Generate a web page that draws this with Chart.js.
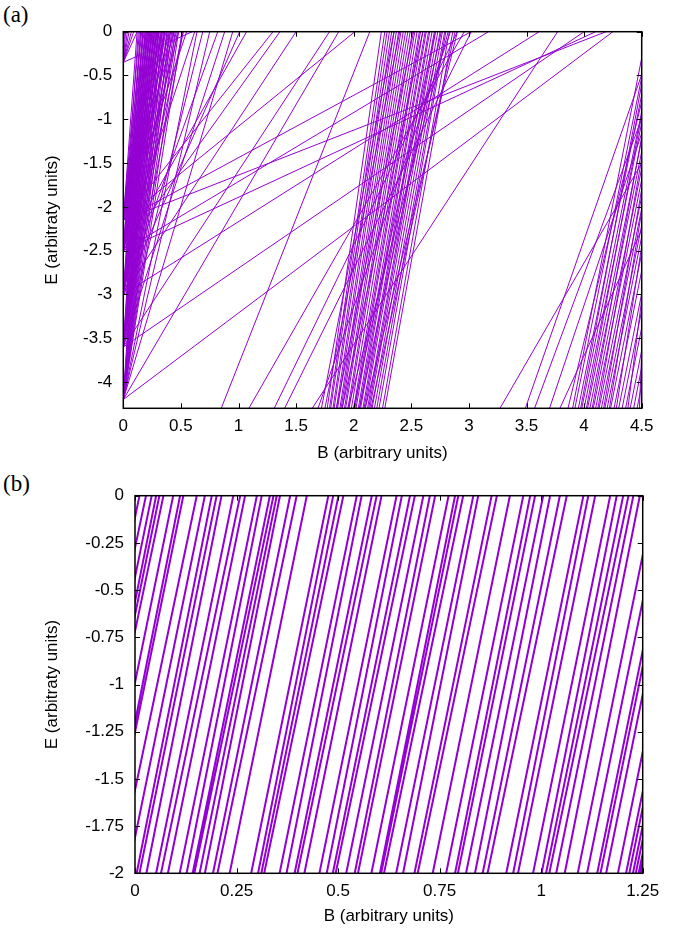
<!DOCTYPE html>
<html><head><meta charset="utf-8">
<script src="https://cdn.jsdelivr.net/npm/chart.js@4"></script>
<style>
body{margin:0;background:#fff;width:680px;height:930px;position:relative;overflow:hidden}
canvas{position:absolute;left:0}
.lab{position:absolute;left:3px;font-family:"Liberation Serif","DejaVu Serif",serif;font-size:23px;color:#000}
</style></head><body>
<div class="lab" style="top:2px">(a)</div>
<div class="lab" style="top:471px">(b)</div>
<canvas id="ca" width="680" height="465" style="top:0"></canvas>
<canvas id="cb" width="680" height="465" style="top:465px"></canvas>
<script>
// ---------- Panel (a) data ----------
const aXTicks = [0, 0.5, 1, 1.5, 2, 2.5, 3, 3.5, 4, 4.5];
const aYTicks = [0, -0.5, -1, -1.5, -2, -2.5, -3, -3.5, -4];
const aOriginE = [-0.35, -2.15, -2.5, -3.0, -3.6, -4.2];
// B where each line leaving an origin (B = 0) reaches E = 0
const aOriginTopB = [
  [0.01, 0.02, 0.035, 0.05, 0.07, 0.09, 0.12, 0.6],
  [0.12, 0.14, 0.16, 0.18, 0.2, 0.22, 0.24, 0.26, 0.28, 0.3, 0.33, 0.36, 0.4, 0.44, 0.55, 1.3, 2.01, 3.02, 4.19],
  [0.13, 0.15, 0.17, 0.19, 0.21, 0.23, 0.25, 0.27, 0.29, 0.31, 0.34, 0.37, 0.41, 0.48, 0.62, 1.07, 1.36, 3.17, 4.1],
  [0.15, 0.17, 0.19, 0.21, 0.23, 0.25, 0.27, 0.29, 0.31, 0.33, 0.36, 0.39, 0.43, 0.46, 0.52, 0.82, 1.01, 1.5, 3.61],
  [0.17, 0.19, 0.21, 0.23, 0.25, 0.27, 0.29, 0.31, 0.33, 0.35, 0.38, 0.41, 0.44, 0.47, 0.52, 0.69, 0.88, 1.79, 4.0],
  [0.2, 0.22, 0.24, 0.26, 0.28, 0.3, 0.32, 0.34, 0.36, 0.38, 0.4, 0.42, 0.45, 0.48, 0.51, 0.64, 0.75, 0.95, 1.87, 4.25]
];
// lines crossing the bottom edge (E = -4.3) and the top edge (E = 0)
const aBottomB = [0.85, 1.09, 1.31, 1.40, 1.64, 1.69, 1.72, 1.75,
  1.77, 1.79, 1.80, 1.82, 1.83, 1.85, 1.86, 1.88, 1.89, 1.90, 1.92, 1.93, 1.95, 1.96, 1.98, 2.00,
  2.01, 2.02, 2.04, 2.05, 2.06, 2.08, 2.09, 2.10, 2.12, 2.13, 2.14, 2.16, 2.18, 2.20, 2.22, 2.25, 2.27,
  1.90, 2.05, 1.95, 2.10, 1.85, 2.00, 2.15];
const aTopB = [2.14, 2.96, 2.90, 3.02, 3.77, 2.84, 2.35, 2.40,
  2.24, 2.27, 2.29, 2.31, 2.33, 2.35, 2.37, 2.39, 2.41, 2.43, 2.45, 2.47, 2.49, 2.51, 2.53, 2.55,
  2.57, 2.58, 2.60, 2.62, 2.63, 2.65, 2.66, 2.68, 2.70, 2.71, 2.73, 2.75, 2.77, 2.79, 2.80, 2.83, 2.86,
  2.60, 2.76, 2.82, 2.90, 2.52, 2.71, 2.88];
// lines crossing the bottom edge and ending on the right edge (B = 4.5)
const aRightBottomB = [3.27, 3.49, 3.57, 3.70, 3.79, 3.86, 3.90, 3.92, 3.95, 3.97, 3.98, 4.00, 4.02,
  4.03, 4.05, 4.07, 4.08, 4.10, 4.12, 4.13, 4.15, 4.17, 4.18, 4.20, 4.22, 4.23, 4.26, 4.28, 4.30, 4.33,
  4.36, 4.38, 4.40, 4.43, 4.46, 4.48];
const aRightE = [-1.50, -0.49, -0.99, -1.16, -2.26, -0.80, -0.30, -0.52, -0.72, -0.60, -0.91, -1.04, -0.95,
  -1.23, -1.37, -1.20, -1.56, -1.69, -1.45, -1.88, -2.02, -1.80, -2.21, -2.34, -2.05, -2.53, -2.73, -2.45, -2.99, -3.18,
  -3.38, -3.06, -3.64, -3.83, -4.03, -3.68];

// ---------- Panel (b) data ----------
const bXTicks = [0, 0.25, 0.5, 0.75, 1, 1.25];
const bYTicks = [0, -0.25, -0.5, -0.75, -1, -1.25, -1.5, -1.75, -2];
// B where each line crosses E = 0 (top) and E = -2 (bottom)
const bTopB = [0.011, 0.027, 0.041, 0.052, 0.060, 0.070, 0.094, 0.111, 0.119, 0.152, 0.172, 0.189,
  0.201, 0.213, 0.242, 0.259, 0.271, 0.300, 0.312, 0.332, 0.341, 0.349, 0.357, 0.382, 0.398, 0.423,
  0.476, 0.488, 0.501, 0.513, 0.546, 0.558, 0.583, 0.595, 0.607, 0.644, 0.657, 0.677, 0.689, 0.710,
  0.726, 0.739, 0.772, 0.788, 0.796, 0.808, 0.833, 0.845, 0.878, 0.891, 0.923, 0.956, 0.973, 0.985,
  1.005, 1.022, 1.046, 1.063, 1.104, 1.116, 1.133, 1.170, 1.186, 1.202, 1.215, 1.227, 1.243,
  1.280, 1.303, 1.328, 1.336, 1.350, 1.379, 1.399, 1.407, 1.416, 1.423, 1.430, 1.435];
const bBottomB = [-0.179, -0.168, -0.149, -0.133, -0.130, -0.125, -0.096, -0.074, -0.071, -0.043, -0.018, 0.004,
  0.011, 0.028, 0.052, 0.064, 0.081, 0.110, 0.127, 0.142, 0.146, 0.159, 0.172, 0.192, 0.203, 0.233,
  0.286, 0.303, 0.311, 0.318, 0.356, 0.373, 0.393, 0.400, 0.417, 0.454, 0.472, 0.487, 0.494, 0.520,
  0.541, 0.549, 0.582, 0.603, 0.606, 0.613, 0.643, 0.660, 0.688, 0.696, 0.733, 0.766, 0.788, 0.795,
  0.815, 0.837, 0.856, 0.868, 0.914, 0.931, 0.943, 0.980, 1.001, 1.012, 1.020, 1.037, 1.058,
  1.090, 1.113, 1.138, 1.146, 1.160, 1.189, 1.209, 1.217, 1.226, 1.233, 1.240, 1.245];

// ---------- build ----------
const A_MIN_E = -4.3, A_MAX_B = 4.5, B_MIN_E = -2;
function seg(arr, x1, y1, x2, y2) { arr.push({x:x1,y:y1}, {x:x2,y:y2}, {x:x2,y:null}); }
const ptsA = [];
aOriginE.forEach((e0, i) => aOriginTopB[i].forEach(bt => seg(ptsA, 0, e0, bt, 0)));
aBottomB.forEach((bb, i) => seg(ptsA, bb, A_MIN_E, aTopB[i], 0));
aRightBottomB.forEach((bb, i) => seg(ptsA, bb, A_MIN_E, A_MAX_B, aRightE[i]));
const ptsB = [];
bTopB.forEach((bt, i) => seg(ptsB, bBottomB[i], B_MIN_E, bt, 0));

Chart.defaults.font.family = '"Liberation Sans", Arial, sans-serif';
Chart.defaults.font.size = 17;
Chart.defaults.color = '#000';

const frame = {
  id: 'frame',
  afterDatasetsDraw(chart) {
    const {ctx, chartArea: a, scales: {x, y}} = chart;
    ctx.save();
    ctx.strokeStyle = '#000';
    ctx.lineWidth = 1;
    ctx.beginPath();
    x.ticks.forEach(t => {
      const p = Math.round(x.getPixelForValue(t.value)) + 0.5;
      ctx.moveTo(p, a.bottom); ctx.lineTo(p, a.bottom - 5);
      ctx.moveTo(p, a.top); ctx.lineTo(p, a.top + 5);
    });
    y.ticks.forEach(t => {
      const p = Math.round(y.getPixelForValue(t.value)) + 0.5;
      ctx.moveTo(a.left, p); ctx.lineTo(a.left + 5, p);
      ctx.moveTo(a.right, p); ctx.lineTo(a.right - 5, p);
    });
    ctx.stroke();
    ctx.lineWidth = 1.5;
    ctx.strokeRect(a.left, a.top, a.width, a.height);
    ctx.restore();
  }
};

function makeChart(id, pts, cfg) {
  return new Chart(document.getElementById(id), {
    type: 'scatter',
    data: { datasets: [{ data: pts, showLine: true, spanGaps: false, borderColor: '#9400D3',
      borderWidth: cfg.lw, pointRadius: 0, pointHoverRadius: 0, fill: false }] },
    options: {
      responsive: false, animation: false, events: [],
      layout: { padding: { left: 0, top: cfg.top, right: cfg.right, bottom: 0 } },
      plugins: { legend: { display: false }, tooltip: { enabled: false } },
      scales: {
        x: {
          type: 'linear', min: cfg.xmin, max: cfg.xmax,
          afterBuildTicks: s => { s.ticks = cfg.xt.map(v => ({value: v})); },
          afterFit: s => { s.height = cfg.xh; },
          ticks: { padding: 8, maxRotation: 0, autoSkip: false, callback: v => String(v) },
          grid: { display: false, drawTicks: false, tickLength: 0 },
          border: { display: false },
          title: { display: true, text: 'B (arbitrary units)', padding: { top: 0, bottom: cfg.xtp } }
        },
        y: {
          type: 'linear', min: cfg.ymin, max: 0,
          afterBuildTicks: s => { s.ticks = cfg.yt.map(v => ({value: v})); },
          afterFit: s => { s.width = cfg.yw; },
          ticks: { padding: 11, autoSkip: false, callback: v => String(v) },
          grid: { display: false, drawTicks: false, tickLength: 0 },
          border: { display: false },
          title: { display: true, text: 'E (arbitraty units)', padding: { top: 42, bottom: 0 } }
        }
      }
    },
    plugins: [frame]
  });
}

makeChart('ca', ptsA, { lw: 1, top: 31.7, right: 38.3, xmin: 0, xmax: A_MAX_B, ymin: A_MIN_E,
  xt: aXTicks, yt: aYTicks, xh: 56.7, yw: 123.3, xtp: 1.5 });
makeChart('cb', ptsB, { lw: 2, top: 30.7, right: 37.3, xmin: 0, xmax: 1.25, ymin: B_MIN_E,
  xt: bXTicks, yt: bYTicks, xh: 56.7, yw: 135, xtp: 3 });
</script>
</body></html>
